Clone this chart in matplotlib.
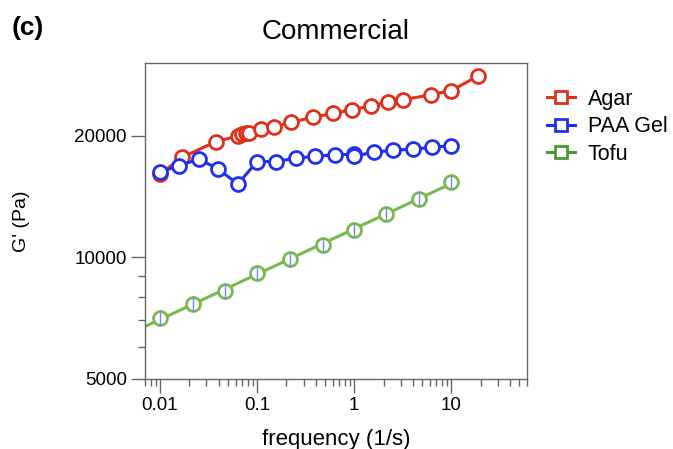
import numpy as np
import matplotlib
matplotlib.use("Agg")
import matplotlib.pyplot as plt
from matplotlib.lines import Line2D
from matplotlib.ticker import FixedLocator, NullFormatter, FixedFormatter

plt.rcParams['font.family'] = ['Liberation Sans', 'DejaVu Sans']

# ---- data ----
agar_f = [0.01, 0.017, 0.0375, 0.064, 0.07, 0.076, 0.083, 0.11, 0.15, 0.224, 0.378, 0.6, 0.95, 1.5, 2.2, 3.2, 6.1, 10, 19]
agar_g = [16100, 17710, 19350, 20000, 20200, 20300, 20380, 20810, 21020, 21620, 22230, 22740, 23200, 23740, 24250, 24570, 25280, 25900, 28170]

paa_f = [0.01, 0.0158, 0.0251, 0.0398, 0.0631, 0.1, 0.158, 0.251, 0.398, 0.631, 1.0, 1.0, 1.58, 2.51, 3.98, 6.31, 10]
paa_g = [16290, 16870, 17530, 16540, 15200, 17270, 17270, 17630, 17790, 17960, 18000, 17790, 18240, 18410, 18550, 18720, 18930]

tofu_f = [0.01, 0.0218, 0.0468, 0.1, 0.219, 0.471, 1.0, 2.14, 4.65, 10]
tofu_g = [7070, 7670, 8275, 9170, 9910, 10720, 11700, 12810, 13960, 15410]
tofu_err = [320, 340, 370, 400, 420, 440, 480, 520, 560, 600]

labels = ['Agar', 'PAA Gel', 'Tofu']
colors = ['#E0301A', '#2030F0', '#78B950']
legend_colors = ['#E0301A', '#2030F0', '#4A9A30']

x_major = [0.01, 0.1, 1, 10]
x_major_labels = ['0.01', '0.1', '1', '10']
y_major = [5000, 10000, 20000]
y_major_labels = ['5000', '10000', '20000']
y_minor = [6000, 7000, 8000, 9000]

# ---- figure ----
fig = plt.figure(figsize=(6.73, 4.49), dpi=100)
ax = fig.add_axes([145/673, 1-379/449, (527-145)/673, (379-63)/449])
ax.set_xscale('log')
ax.set_yscale('log')
xlim = (0.007, 60)
ax.set_xlim(*xlim)
ax.set_ylim(5000, 30300)

ms = 10
mew = 2.0
lw = 2.2

# Tofu: power-law fit line extended to left edge + markers with error bars
lf = np.log10(tofu_f)
lg = np.log10(tofu_g)
p = np.polyfit(lf, lg, 1)
xfit = np.array([xlim[0], max(tofu_f)])
ax.plot(xfit, 10**np.polyval(p, np.log10(xfit)), color=colors[2], lw=lw, zorder=2)
ax.plot(tofu_f, tofu_g, 'o', ms=ms, mfc='white', mec=colors[2], mew=mew, zorder=3)
ax.errorbar(tofu_f, tofu_g, yerr=tofu_err, fmt='none', ecolor='#7A88E8', elinewidth=1.0, capsize=0, zorder=4)

ax.plot(paa_f, paa_g, '-o', color=colors[1], lw=lw, ms=ms, mfc='white', mec=colors[1], mew=mew, zorder=3)
ax.plot(agar_f, agar_g, '-o', color=colors[0], lw=lw, ms=ms, mfc='white', mec=colors[0], mew=mew, zorder=2)

# ticks
ax.xaxis.set_major_locator(FixedLocator(x_major))
ax.xaxis.set_major_formatter(FixedFormatter(x_major_labels))
minors = [m * 10.0**e for e in range(-3, 2) for m in range(2, 10)]
ax.xaxis.set_minor_locator(FixedLocator([v for v in minors if xlim[0] <= v <= xlim[1]]))
ax.xaxis.set_minor_formatter(NullFormatter())
ax.yaxis.set_major_locator(FixedLocator(y_major))
ax.yaxis.set_major_formatter(FixedFormatter(y_major_labels))
ax.yaxis.set_minor_locator(FixedLocator(y_minor))
ax.yaxis.set_minor_formatter(NullFormatter())

spine_c = '#666666'
for s in ax.spines.values():
    s.set_color(spine_c)
    s.set_linewidth(1.0)
ax.tick_params(which='major', direction='out', length=10, width=1.0, color=spine_c, labelsize=13.5, pad=3)
ax.tick_params(which='minor', direction='out', length=5, width=1.0, color=spine_c)

ax.set_xlabel('frequency (1/s)', fontsize=16, labelpad=11)
ax.set_ylabel("G' (Pa)", fontsize=14, labelpad=32)
ax.set_title('Commercial', fontsize=20, pad=17)
fig.text(12/673, 1-28/449, '(c)', fontsize=19, fontweight='bold', va='center', ha='left')

handles = [Line2D([0], [0], color=c, lw=lw, marker='s', ms=9, mfc='white', mec=c, mew=mew) for c in legend_colors]
leg = fig.legend(handles, labels, loc='upper left', bbox_to_anchor=(547/673, 1-89/449),
                 frameon=False, fontsize=15.5, handlelength=1.3, handletextpad=0.6,
                 labelspacing=0.3, borderaxespad=0, borderpad=0)

fig.savefig('out.png', dpi=100)
